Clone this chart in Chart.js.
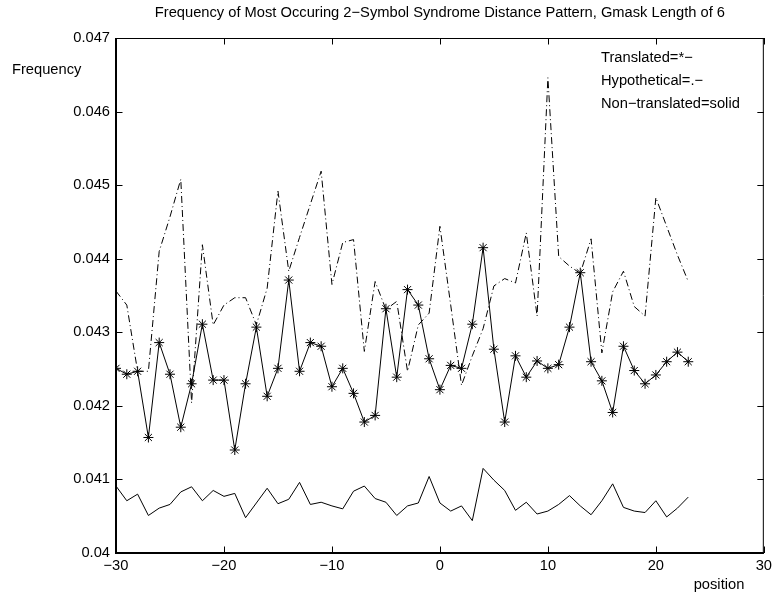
<!DOCTYPE html>
<html>
<head>
<meta charset="utf-8">
<script src="https://cdn.jsdelivr.net/npm/chart.js@4.4.1/dist/chart.umd.min.js"></script>
<style>
html,body{margin:0;padding:0;background:#fff;}
canvas{display:block;}
</style>
</head>
<body>
<canvas id="c" width="776" height="592"></canvas>
<script>
// ---- data ----
const positions = [-30,-29,-28,-27,-26,-25,-24,-23,-22,-21,-20,-19,-18,-17,-16,-15,-14,-13,-12,-11,-10,-9,-8,-7,-6,-5,-4,-3,-2,-1,0,1,2,3,4,5,6,7,8,9,10,11,12,13,14,15,16,17,18,19,20,21,22,23];
const translated = [0.04251,0.04243,0.04247,0.04157,0.04286,0.04243,0.04171,0.04230,0.04311,0.04235,0.04235,0.04140,0.04230,0.04307,0.04213,0.04251,0.04371,0.04247,0.04286,0.04281,0.04226,0.04251,0.04217,0.04178,0.04187,0.04332,0.04239,0.04358,0.04337,0.04264,0.04222,0.04255,0.04251,0.04311,0.04415,0.04277,0.04178,0.04268,0.04239,0.04261,0.04251,0.04256,0.04307,0.04381,0.04260,0.04234,0.04191,0.04281,0.04248,0.04230,0.04242,0.04260,0.04273,0.04260];
const hypothetical = [0.04356,0.04337,0.04247,0.04247,0.04410,0.04457,0.04508,0.04204,0.04419,0.04310,0.04337,0.04347,0.04347,0.04310,0.04360,0.04492,0.04383,0.04429,0.04474,0.04519,0.04365,0.04422,0.04426,0.04274,0.04369,0.04331,0.04342,0.04247,0.04310,0.04326,0.04444,0.04337,0.04228,0.04268,0.04305,0.04363,0.04373,0.04367,0.04435,0.04322,0.04646,0.04403,0.04390,0.04380,0.04427,0.04272,0.04355,0.04383,0.04335,0.04322,0.04483,0.04444,0.04405,0.04369];
const nonTranslated = [0.04091,0.04071,0.04080,0.04051,0.04061,0.04066,0.04083,0.04090,0.04071,0.04085,0.04077,0.04081,0.04048,0.04068,0.04088,0.04067,0.04073,0.04096,0.04066,0.04069,0.04064,0.04060,0.04084,0.04091,0.04074,0.04069,0.04051,0.04064,0.04068,0.04104,0.04068,0.04057,0.04064,0.04044,0.04115,0.04099,0.04085,0.04058,0.04069,0.04053,0.04057,0.04066,0.04078,0.04064,0.04052,0.04071,0.04094,0.04062,0.04057,0.04055,0.04071,0.04049,0.04061,0.04076];
const xTickValues = [-30,-20,-10,0,10,20,30];
const xTickLabels = ['\u221230','\u221220','\u221210','0','10','20','30'];
const yTickValues = [0.040,0.041,0.042,0.043,0.044,0.045,0.046,0.047];
const yTickLabels = ['0.04','0.041','0.042','0.043','0.044','0.045','0.046','0.047'];
const titleText = 'Frequency of Most Occuring 2\u2212Symbol Syndrome Distance Pattern, Gmask Length of 6';
const yAxisText = 'Frequency';
const xAxisText = 'position';
const noteLines = ['Translated=*\u2212','Hypothetical=.\u2212','Non\u2212translated=solid'];

// ---- chart ----
const FONT = '"Liberation Sans", Arial, Helvetica, sans-serif';
const FS = 14.7;
const toPts = arr => positions.map((x,i)=>({x:x, y:arr[i]}));

const decor = {
  id:'decor',
  afterDraw(chart){
    const {ctx, chartArea:a, scales:{x, y}} = chart;
    ctx.save();
    ctx.strokeStyle = '#000';
    ctx.lineWidth = 1;
    ctx.beginPath();
    ctx.moveTo(a.left, a.top + 0.5); ctx.lineTo(a.right, a.top + 0.5);
    ctx.moveTo(a.right - 0.5, a.top); ctx.lineTo(a.right - 0.5, a.bottom);
    ctx.stroke();
    ctx.lineWidth = 2;
    ctx.beginPath();
    ctx.moveTo(a.left, a.top); ctx.lineTo(a.left, a.bottom);
    ctx.moveTo(a.left - 1, a.bottom); ctx.lineTo(a.right, a.bottom);
    ctx.stroke();
    const TL = 6.5;
    ctx.lineWidth = 1;
    ctx.beginPath();
    xTickValues.forEach(v=>{
      const px = Math.round(x.getPixelForValue(v)) + 0.5;
      ctx.moveTo(px, a.bottom); ctx.lineTo(px, a.bottom - TL);
      ctx.moveTo(px, a.top); ctx.lineTo(px, a.top + TL);
    });
    yTickValues.forEach(v=>{
      const py = Math.round(y.getPixelForValue(v)) + 0.5;
      ctx.moveTo(a.left, py); ctx.lineTo(a.left + TL, py);
      ctx.moveTo(a.right, py); ctx.lineTo(a.right - TL, py);
    });
    ctx.stroke();
    ctx.fillStyle = '#000';
    ctx.font = FS + 'px ' + FONT;
    ctx.textBaseline = 'middle';
    ctx.textAlign = 'center';
    ctx.fillText(titleText, (a.left + a.right)/2, 13);
    ctx.fillText(xAxisText, 719, 585);
    ctx.textAlign = 'left';
    ctx.fillText(yAxisText, 12, 70);
    noteLines.forEach((t,i)=> ctx.fillText(t, 601, 58 + i*23));
    ctx.restore();
  }
};

new Chart(document.getElementById('c'), {
  type:'line',
  data:{
    datasets:[
      {label:'Non-translated', data:toPts(nonTranslated), borderColor:'#000', borderWidth:1, pointRadius:0, tension:0, fill:false},
      {label:'Hypothetical', data:toPts(hypothetical), borderColor:'#000', borderWidth:1, borderDash:[7,3,1,3], pointRadius:0, tension:0, fill:false},
      {label:'Translated', data:toPts(translated), borderColor:'#000', borderWidth:1, pointStyle:'star', pointRadius:5, pointBorderColor:'#000', pointBackgroundColor:'#000', pointBorderWidth:1, tension:0, fill:false}
    ]
  },
  options:{
    responsive:false, animation:false, devicePixelRatio:1,
    layout:{padding:{top:38, right:7, left:0, bottom:0}},
    plugins:{legend:{display:false}, tooltip:{enabled:false}, title:{display:false}},
    scales:{
      x:{type:'linear', min:-30, max:30,
         afterBuildTicks:s=>{ s.ticks = xTickValues.map(v=>({value:v})); },
         ticks:{callback:(v,i)=>xTickLabels[i], color:'#000', font:{family:FONT, size:FS}, padding:4, maxRotation:0, autoSkip:false},
         grid:{display:false, drawTicks:false}, border:{display:false},
         afterFit:s=>{ s.height = 39; }},
      y:{type:'linear', min:0.04, max:0.047,
         afterBuildTicks:s=>{ s.ticks = yTickValues.map(v=>({value:v})); },
         ticks:{callback:(v,i)=>yTickLabels[i], color:'#000', font:{family:FONT, size:FS}, padding:6, autoSkip:false},
         grid:{display:false, drawTicks:false}, border:{display:false},
         afterFit:s=>{ s.width = 116; }}
    }
  },
  plugins:[decor]
});
</script>
</body>
</html>
